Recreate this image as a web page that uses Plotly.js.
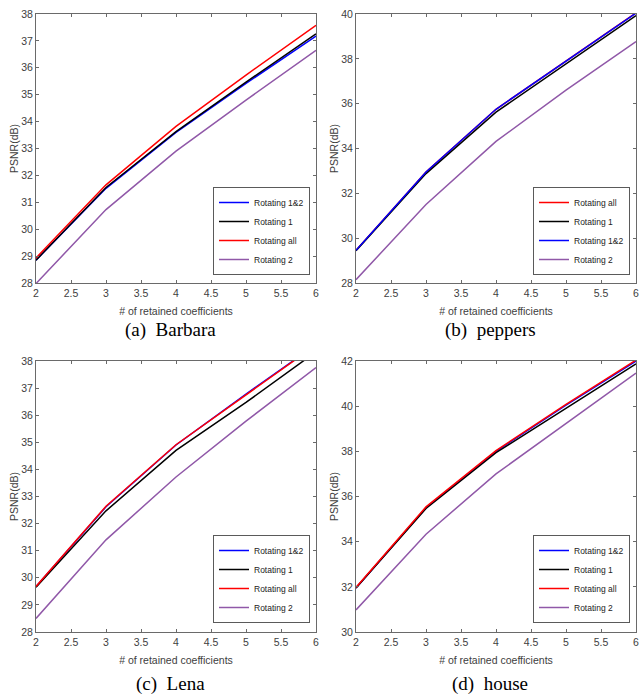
<!DOCTYPE html>
<html>
<head>
<meta charset="utf-8">
<script src="https://cdn.plot.ly/plotly-3.0.1.min.js"></script>
<style>html,body{margin:0;padding:0;background:#fff;}#chart{width:639px;height:696px;}</style>
</head>
<body>
<div id="chart"></div>
<script>
// Shared x values: number of retained coefficients
const coeffs = [2, 3, 4, 5, 6];
const xTicks = [2, 2.5, 3, 3.5, 4, 4.5, 5, 5.5, 6];

// (a) Barbara
const barbara_r12  = [28.85, 31.52, 33.60, 35.42, 37.18];
const barbara_r1   = [28.85, 31.55, 33.63, 35.47, 37.26];
const barbara_rall = [28.93, 31.65, 33.82, 35.73, 37.58];
const barbara_r2   = [27.98, 30.73, 32.90, 34.80, 36.65];

// (b) peppers
const peppers_rall = [29.46, 32.95, 35.75, 37.90, 40.05];
const peppers_r1   = [29.44, 32.88, 35.62, 37.77, 39.93];
const peppers_r12  = [29.46, 32.95, 35.75, 37.90, 40.04];
const peppers_r2   = [28.15, 31.50, 34.32, 36.60, 38.77];

// (c) Lena
const lena_r12  = [29.67, 32.62, 34.90, 36.78, 38.60];
const lena_r1   = [29.65, 32.47, 34.70, 36.47, 38.34];
const lena_rall = [29.68, 32.64, 34.91, 36.77, 38.59];
const lena_r2   = [28.50, 31.40, 33.72, 35.78, 37.76];

// (d) house
const house_r12  = [31.95, 35.50, 38.00, 40.05, 42.00];
const house_r1   = [31.95, 35.47, 37.94, 39.91, 41.87];
const house_rall = [31.97, 35.54, 38.03, 40.08, 42.04];
const house_r2   = [30.98, 34.33, 37.00, 39.22, 41.46];

const names = { r12: 'Rotating 1&2', r1: 'Rotating 1', rall: 'Rotating all', r2: 'Rotating 2' };
const colors = { r12: '#0000ff', r1: '#000000', rall: '#ff0000', r2: '#9058a8' };

function tr(key, y, ax, legend) {
  return {
    x: coeffs, y: y, type: 'scatter', mode: 'lines',
    name: names[key], line: { color: colors[key], width: 1.5 },
    xaxis: 'x' + ax, yaxis: 'y' + ax, legend: legend
  };
}

const data = [
  tr('r12', barbara_r12, '', 'legend'),
  tr('r1', barbara_r1, '', 'legend'),
  tr('rall', barbara_rall, '', 'legend'),
  tr('r2', barbara_r2, '', 'legend'),

  tr('rall', peppers_rall, '2', 'legend2'),
  tr('r1', peppers_r1, '2', 'legend2'),
  tr('r12', peppers_r12, '2', 'legend2'),
  tr('r2', peppers_r2, '2', 'legend2'),

  tr('r12', lena_r12, '3', 'legend3'),
  tr('r1', lena_r1, '3', 'legend3'),
  tr('rall', lena_rall, '3', 'legend3'),
  tr('r2', lena_r2, '3', 'legend3'),

  tr('r12', house_r12, '4', 'legend4'),
  tr('r1', house_r1, '4', 'legend4'),
  tr('rall', house_rall, '4', 'legend4'),
  tr('r2', house_r2, '4', 'legend4')
];

const W = 639, H = 696;
const axCol = '#6a6a6a';
const tickFont = { family: 'Liberation Sans, Arial, sans-serif', size: 10.5, color: '#404040' };
const titleFont = { family: 'Liberation Sans, Arial, sans-serif', size: 10.5, color: '#404040' };

function xa(domain, anchor) {
  return {
    domain: domain, anchor: anchor, range: [2, 6], tickvals: xTicks,
    showline: true, mirror: 'ticks', linecolor: axCol, linewidth: 1,
    ticks: 'inside', ticklen: 3, tickcolor: axCol, showgrid: false, zeroline: false,
    tickfont: tickFont, ticklabeloverflow: 'allow',
    title: { text: '# of retained coefficients', font: titleFont, standoff: 10 }
  };
}
function ya(domain, anchor, range, dtick) {
  return {
    domain: domain, anchor: anchor, range: range, dtick: dtick, tick0: range[0],
    showline: true, mirror: 'ticks', linecolor: axCol, linewidth: 1,
    ticks: 'inside', ticklen: 3, tickcolor: axCol, showgrid: false, zeroline: false,
    tickfont: tickFont, ticklabeloverflow: 'allow',
    title: { text: 'PSNR(dB)', font: titleFont, standoff: 0 }
  };
}

const xL = [36 / W, 316 / W], xR = [356 / W, 636 / W];
const yT = [(H - 283) / H, (H - 14) / H], yB = [(H - 632) / H, (H - 361) / H];

function leg(xRight, yBottom) {
  return {
    x: xRight / W, y: (H - yBottom) / H, xanchor: 'right', yanchor: 'bottom',
    bgcolor: '#ffffff', bordercolor: '#5a5a5a', borderwidth: 1,
    font: { family: 'Liberation Sans Narrow, Liberation Sans, Arial, sans-serif', size: 8.5, color: '#222' },
    tracegroupgap: 0, itemwidth: 30
  };
}

const capFont = { family: 'Liberation Serif, Times New Roman, serif', size: 19, color: '#000' };

function cap(text, xc, yc) {
  return { text: text, x: xc / W, y: (H - yc) / H, xref: 'paper', yref: 'paper',
           xanchor: 'center', yanchor: 'middle', showarrow: false, font: capFont };
}

const layout = {
  width: W, height: H,
  margin: { l: 0, r: 0, t: 0, b: 0 },
  paper_bgcolor: '#ffffff', plot_bgcolor: '#ffffff',
  showlegend: true,
  xaxis: xa(xL, 'y'), yaxis: ya(yT, 'x', [28, 38], 1),
  xaxis2: xa(xR, 'y2'), yaxis2: ya(yT, 'x2', [28, 40], 2),
  xaxis3: xa(xL, 'y3'), yaxis3: ya(yB, 'x3', [28, 38], 1),
  xaxis4: xa(xR, 'y4'), yaxis4: ya(yB, 'x4', [30, 42], 2),
  legend: leg(310, 275),
  legend2: leg(630, 275),
  legend3: leg(310, 623),
  legend4: leg(630, 623),
  annotations: [
    cap('(a)\u00a0 Barbara', 170, 330),
    cap('(b)\u00a0 peppers', 490, 330),
    cap('(c)\u00a0 Lena', 171, 684),
    cap('(d)\u00a0 house', 490, 684)
  ]
};

Plotly.newPlot('chart', data, layout, { staticPlot: true, displayModeBar: false });
</script>
</body>
</html>
